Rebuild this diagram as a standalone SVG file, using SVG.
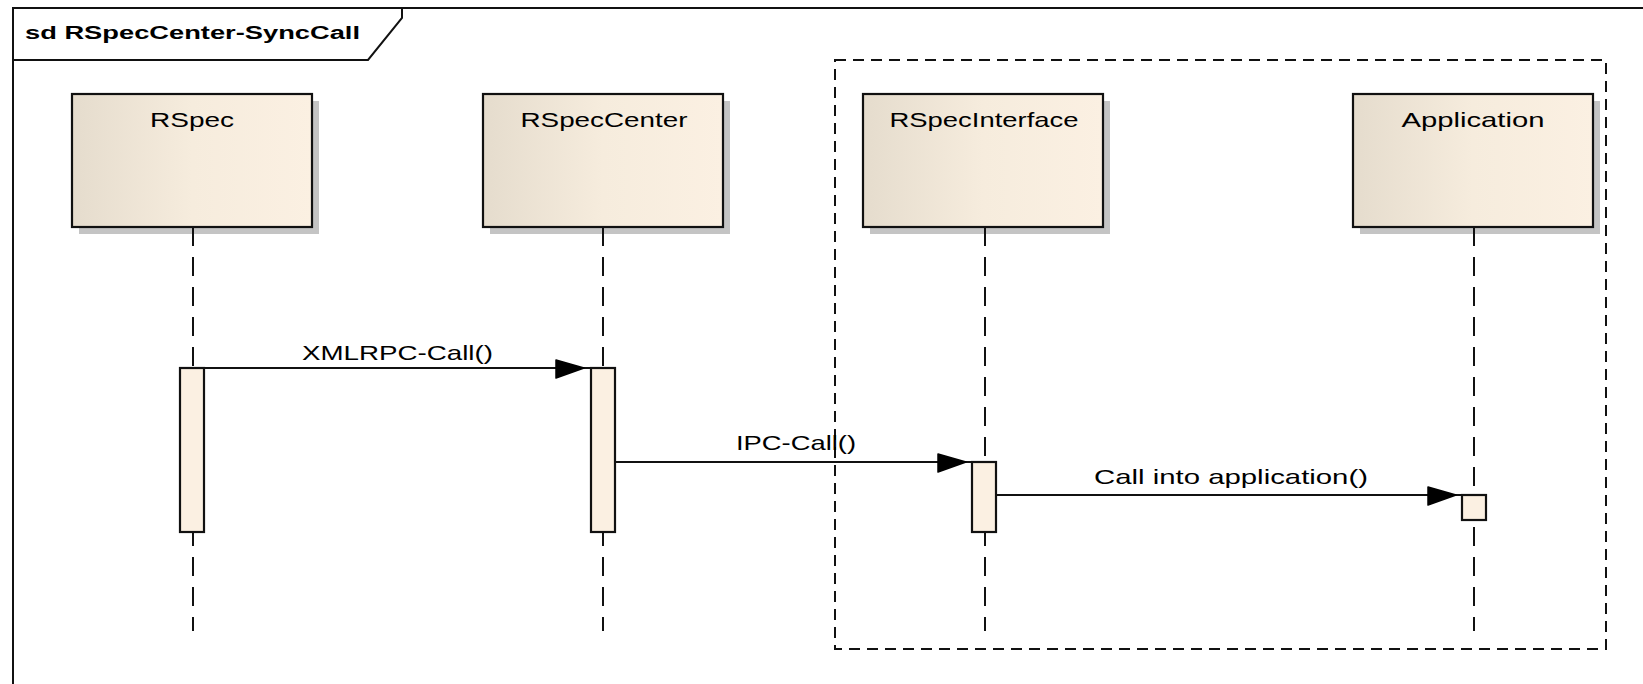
<svg xmlns="http://www.w3.org/2000/svg" width="1643" height="684" viewBox="0 0 1643 684">
  <defs>
    <linearGradient id="headFill" x1="0" y1="0" x2="1" y2="0">
      <stop offset="0" stop-color="#e5dccd"/>
      <stop offset="0.5" stop-color="#f6ecdd"/>
      <stop offset="1" stop-color="#fbf0e2"/>
    </linearGradient>
    <style>
      .frame { fill: none; stroke: #111; stroke-width: 2; }
      .fragment { fill: none; stroke: #111; stroke-width: 2; stroke-dasharray: 11 7; }
      .head { fill: url(#headFill); stroke: #111; stroke-width: 2.2; }
      .shadow { fill: #c4c4c4; }
      .lifeline { stroke: #111; stroke-width: 2; stroke-dasharray: 19 11; fill: none; }
      .activation { fill: #fbf0e2; stroke: #111; stroke-width: 2.2; }
      .msg { stroke: #111; stroke-width: 2; fill: none; }
      .arrow { fill: #000; stroke: #000; stroke-width: 1.5; stroke-linejoin: round; }
      .title { font-family: "Liberation Sans", Arial, sans-serif; font-size: 18px; font-weight: bold; fill: #000; }
      .label { font-family: "Liberation Sans", Arial, sans-serif; font-size: 21px; fill: #000; }
    </style>
  </defs>

  <rect x="0" y="0" width="1643" height="684" fill="#ffffff"/>

  <!-- Sequence diagram frame with its name tab -->
  <g id="frame">
    <rect class="frame" x="13" y="8" width="1660" height="720"/>
    <polyline class="frame" points="402,8 402,18 368,60 13,60"/>
    <text class="title" x="25" y="39" textLength="335" lengthAdjust="spacingAndGlyphs">sd RSpecCenter-SyncCall</text>
  </g>

  <!-- Dashed boundary around the interface side -->
  <g id="boundary">
    <rect class="fragment" x="835" y="60" width="771" height="589"/>
  </g>

  <!-- Lifeline: RSpec -->
  <g id="rspec">
    <rect class="shadow" x="79" y="101" width="240" height="133"/>
    <rect class="head" x="72" y="94" width="240" height="133"/>
    <text class="label" x="192" y="127" text-anchor="middle" textLength="84" lengthAdjust="spacingAndGlyphs">RSpec</text>
    <line class="lifeline" x1="193" y1="227" x2="193" y2="631"/>
    <rect class="activation" x="180" y="368" width="24" height="164"/>
  </g>

  <!-- Lifeline: RSpecCenter -->
  <g id="rspeccenter">
    <rect class="shadow" x="490" y="101" width="240" height="133"/>
    <rect class="head" x="483" y="94" width="240" height="133"/>
    <text class="label" x="604" y="127" text-anchor="middle" textLength="167" lengthAdjust="spacingAndGlyphs">RSpecCenter</text>
    <line class="lifeline" x1="603" y1="227" x2="603" y2="631"/>
    <rect class="activation" x="591" y="368" width="24" height="164"/>
  </g>

  <!-- Lifeline: RSpecInterface -->
  <g id="rspecinterface">
    <rect class="shadow" x="870" y="101" width="240" height="133"/>
    <rect class="head" x="863" y="94" width="240" height="133"/>
    <text class="label" x="984" y="127" text-anchor="middle" textLength="189" lengthAdjust="spacingAndGlyphs">RSpecInterface</text>
    <line class="lifeline" x1="985" y1="227" x2="985" y2="631"/>
    <rect class="activation" x="972" y="462" width="24" height="70"/>
  </g>

  <!-- Lifeline: Application -->
  <g id="application">
    <rect class="shadow" x="1360" y="101" width="240" height="133"/>
    <rect class="head" x="1353" y="94" width="240" height="133"/>
    <text class="label" x="1473" y="127" text-anchor="middle" textLength="143" lengthAdjust="spacingAndGlyphs">Application</text>
    <line class="lifeline" x1="1474" y1="227" x2="1474" y2="631"/>
    <rect class="activation" x="1462" y="495" width="24" height="25"/>
  </g>

  <!-- Synchronous messages -->
  <g id="messages">
    <line class="msg" x1="204" y1="368" x2="591" y2="368"/>
    <polygon class="arrow" points="556,360 584,368 556,378"/>
    <text class="label" x="302" y="360" textLength="191" lengthAdjust="spacingAndGlyphs">XMLRPC-Call()</text>

    <line class="msg" x1="615" y1="462" x2="972" y2="462"/>
    <polygon class="arrow" points="938,454 966,462 938,472"/>
    <text class="label" x="736" y="450" textLength="120" lengthAdjust="spacingAndGlyphs">IPC-Call()</text>

    <line class="msg" x1="996" y1="495" x2="1462" y2="495"/>
    <polygon class="arrow" points="1428,487 1456,495 1428,505"/>
    <text class="label" x="1094" y="484" textLength="274" lengthAdjust="spacingAndGlyphs">Call into application()</text>
  </g>
</svg>
